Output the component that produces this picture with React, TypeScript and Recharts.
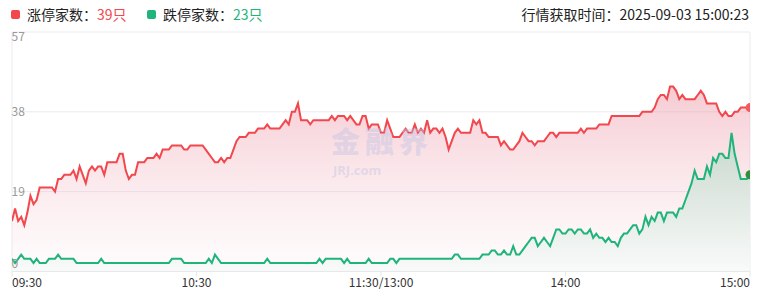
import React from 'react';
import { ComposedChart, Area, XAxis, YAxis, CartesianGrid } from 'recharts';

// minute index from 09:30 (0) to 15:00 (240), lunch break collapsed at 120
const tickMinutes = [0, 60, 120, 180, 240];
const tickLabels = ['09:30', '10:30', '11:30/13:00', '14:00', '15:00'];
const yTicks = [0, 19, 38, 57];
const fetchTime = '2025-09-03 15:00:23';

// 涨停家数, one value per minute
const limitUp = [
  12, 15, 12, 13, 11, 14, 18, 16, 17, 20,
  20, 20, 20, 20, 19, 22, 22, 23, 23, 23,
  24, 22, 25, 23, 21, 24, 25, 24, 25, 25,
  23, 26, 26, 26, 26, 28, 28, 24, 22, 23,
  23, 26, 26, 26, 27, 27, 27, 28, 27, 29,
  29, 29, 30, 30, 30, 30, 29, 29, 30, 30,
  30, 30, 30, 29, 28, 27, 26, 26, 27, 26,
  27, 27, 29, 31, 32, 32, 32, 33, 33, 33,
  34, 34, 34, 35, 34, 34, 34, 34, 35, 36,
  35, 38, 38, 40, 36, 36, 36, 35, 36, 36,
  36, 36, 36, 36, 37, 36, 37, 37, 37, 36,
  37, 36, 35, 35, 37, 37, 34, 35, 35, 35,
  33, 33, 36, 34, 32, 32, 32, 33, 34, 33,
  33, 35, 33, 34, 33, 36, 33, 34, 34, 33,
  34, 32, 29, 31, 33, 34, 33, 33, 33, 33,
  36, 35, 36, 33, 33, 32, 32, 32, 32, 30,
  31, 30, 29, 29, 30, 31, 33, 32, 31, 31,
  30, 31, 31, 31, 32, 33, 33, 32, 33, 33,
  33, 33, 33, 33, 33, 34, 33, 34, 34, 34,
  34, 35, 35, 35, 35, 37, 37, 37, 37, 37,
  37, 37, 37, 37, 37, 38, 38, 38, 38, 39,
  41, 42, 42, 41, 44, 44, 43, 41, 42, 41,
  41, 41, 41, 42, 43, 42, 40, 40, 40, 40,
  38, 37, 38, 37, 37, 38, 38, 39, 39, 39, 39,
];

// 跌停家数, one value per minute
const limitDown = [
  3, 2, 3, 4, 3, 3, 3, 2, 3, 2,
  2, 2, 3, 3, 3, 4, 3, 3, 3, 3,
  3, 2, 2, 2, 2, 2, 2, 2, 2, 3,
  2, 2, 2, 2, 2, 2, 2, 2, 2, 2,
  2, 2, 2, 2, 2, 2, 2, 2, 2, 2,
  2, 2, 3, 3, 3, 3, 2, 2, 2, 2,
  2, 2, 2, 2, 3, 2, 4, 3, 2, 2,
  2, 2, 2, 2, 2, 2, 2, 2, 2, 2,
  2, 2, 2, 3, 2, 2, 2, 2, 2, 2,
  2, 2, 2, 2, 2, 2, 2, 2, 2, 2,
  3, 2, 3, 3, 3, 3, 3, 3, 2, 3,
  2, 2, 2, 2, 2, 2, 3, 2, 2, 2,
  2, 2, 2, 3, 3, 2, 3, 3, 3, 3,
  3, 3, 3, 3, 3, 3, 3, 3, 3, 3,
  3, 3, 3, 3, 4, 4, 3, 3, 3, 3,
  3, 3, 3, 4, 4, 4, 5, 5, 4, 4,
  5, 4, 4, 6, 4, 4, 5, 6, 7, 8,
  8, 6, 7, 8, 7, 6, 8, 10, 10, 9,
  9, 10, 10, 9, 10, 10, 9, 9, 10, 8,
  9, 8, 8, 7, 8, 7, 7, 6, 8, 9,
  9, 10, 11, 11, 9, 10, 13, 11, 13, 12,
  14, 14, 12, 14, 14, 14, 13, 15, 15, 17,
  19, 21, 24, 22, 22, 22, 25, 23, 27, 26,
  28, 28, 27, 27, 33, 28, 25, 22, 22, 22, 23,
];

const data = limitUp.map((up, i) => ({ i, up, down: limitDown[i] }));

const RED = '#f2474d';
const GREEN = '#1fb47a';
const FONT = '"Noto Sans CJK SC", "Noto Sans", sans-serif';
const MARK = 'rgba(196,196,228,0.45)';

const XTick = (props: any) => {
  const { x, y, payload } = props;
  const idx = tickMinutes.indexOf(payload.value);
  const anchor = idx === 0 ? 'start' : idx === tickMinutes.length - 1 ? 'end' : 'middle';
  return (
    <text x={x} y={y} dy={9} textAnchor={anchor} fill="#333" fontSize={12} fontFamily={FONT}>
      {tickLabels[idx]}
    </text>
  );
};

const YTick = (props: any) => {
  const { y, payload } = props;
  const v = payload.value;
  const dy = v === yTicks[yTicks.length - 1] ? 9 : v === 0 ? -3 : 4;
  return (
    <text x={11.5} y={y} dy={dy} textAnchor="start" fill="#999" fontSize={12} fontFamily={FONT}>
      {v}
    </text>
  );
};

const endDot = (color: string) => (props: any) => {
  const { cx, cy, index } = props;
  if (index !== data.length - 1) return <g key={`d-${index}`} />;
  return <circle key={`d-${index}`} cx={cx} cy={cy} r={4.5} fill={color} />;
};

export default function App() {
  const lastUp = limitUp[limitUp.length - 1];
  const lastDown = limitDown[limitDown.length - 1];

  return (
    <div
      style={{
        position: 'absolute',
        left: 0,
        top: 0,
        width: 771,
        height: 308,
        background: '#fff',
        fontFamily: FONT,
        overflow: 'hidden',
      }}
    >
      {/* legend */}
      <div style={{ position: 'absolute', left: 11, top: 9.5, width: 9, height: 9, borderRadius: 2, background: RED }} />
      <div style={{ position: 'absolute', left: 27, top: 4, fontSize: 14, lineHeight: '20px', color: '#222', whiteSpace: 'nowrap' }}>
        涨停家数：<span style={{ color: RED }}>{lastUp}只</span>
      </div>
      <div style={{ position: 'absolute', left: 147, top: 9.5, width: 9, height: 9, borderRadius: 2, background: GREEN }} />
      <div style={{ position: 'absolute', left: 163, top: 4, fontSize: 14, lineHeight: '20px', color: '#222', whiteSpace: 'nowrap' }}>
        跌停家数：<span style={{ color: GREEN }}>{lastDown}只</span>
      </div>
      <div style={{ position: 'absolute', right: 22, top: 4, fontSize: 14, lineHeight: '20px', color: '#222', whiteSpace: 'nowrap' }}>
        行情获取时间：{fetchTime}
      </div>

      <div style={{ position: 'absolute', left: 0, top: 0 }}>
        <ComposedChart width={771} height={308} data={data} margin={{ top: 32, right: 21, bottom: 6.6, left: 0 }}>
          <defs>
            <linearGradient id="upFill" x1="0" y1="0" x2="0" y2="1">
              <stop offset="0%" stopColor="#ec96a6" stopOpacity={0.5} />
              <stop offset="100%" stopColor="#f3c4cd" stopOpacity={0.05} />
            </linearGradient>
            <linearGradient id="downFill" x1="0" y1="0" x2="0" y2="1">
              <stop offset="0%" stopColor="#c8d8cc" stopOpacity={1} />
              <stop offset="100%" stopColor="#f9fafa" stopOpacity={1} />
            </linearGradient>
          </defs>
          <CartesianGrid
            stroke="#ebebf0"
            verticalCoordinatesGenerator={({ offset }: any) => [offset.left, offset.left + offset.width]}
          />
          <XAxis
            dataKey="i"
            type="number"
            domain={[0, 240]}
            ticks={tickMinutes}
            interval={0}
            height={30}
            allowDataOverflow
            axisLine={{ stroke: '#e6e6eb' }}
            tickLine={{ stroke: '#e6e6eb' }}
            tickSize={5}
            tick={<XTick />}
          />
          <YAxis
            domain={[0, 57]}
            ticks={yTicks}
            interval={0}
            width={12}
            axisLine={false}
            tickLine={false}
            tick={<YTick />}
          />
          <Area
            type="linear"
            dataKey="up"
            stroke={RED}
            strokeWidth={2}
            fill="url(#upFill)"
            fillOpacity={1}
            dot={endDot('#f35a5f')}
            activeDot={false}
            isAnimationActive={false}
          />
          <Area
            type="linear"
            dataKey="down"
            stroke={GREEN}
            strokeWidth={2}
            fill="url(#downFill)"
            fillOpacity={1}
            dot={endDot('#2f8f3c')}
            activeDot={false}
            isAnimationActive={false}
          />
        </ComposedChart>
      </div>

      {/* watermark */}
      <div
        style={{
          position: 'absolute',
          left: 331,
          top: 125,
          fontSize: 29,
          fontWeight: 900,
          letterSpacing: 5,
          lineHeight: '30px',
          color: MARK,
          pointerEvents: 'none',
          whiteSpace: 'nowrap',
        }}
      >
        金融界
      </div>
      <div
        style={{
          position: 'absolute',
          left: 333,
          top: 163,
          fontSize: 13,
          fontWeight: 700,
          lineHeight: '15px',
          color: MARK,
          fontFamily: '"Noto Sans", sans-serif',
          pointerEvents: 'none',
        }}
      >
        JRJ.com
      </div>
    </div>
  );
}
